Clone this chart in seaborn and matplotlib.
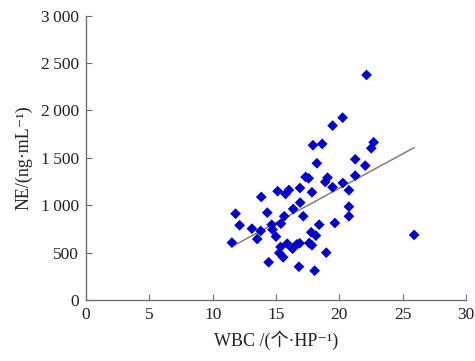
import matplotlib
matplotlib.use('Agg')
import matplotlib.pyplot as plt
import seaborn as sns
import pandas as pd
from matplotlib.ticker import FuncFormatter, MultipleLocator

# Значения
wbc = [22.15, 20.26, 19.47, 17.92, 18.65, 22.71, 22.52, 18.23, 21.26, 22.05,
       17.34, 17.58, 19.07, 18.89, 21.26, 20.28, 19.47, 16.89, 20.76, 16.02,
       15.76, 15.13, 17.84, 13.84, 16.91, 16.36, 20.76, 14.31, 11.81, 15.65,
       17.15, 20.76, 19.65, 12.13, 13.10, 14.66, 15.39, 18.41, 14.73, 13.79,
       13.52, 15.00, 17.78, 18.15, 11.52, 15.89, 15.36, 16.31, 16.65, 16.87,
       17.63, 17.84, 15.26, 15.57, 18.97, 14.42, 16.81, 18.05, 25.91]
ne = [2373, 1923, 1839, 1632, 1646, 1663, 1600, 1442, 1484, 1417,
      1297, 1283, 1290, 1245, 1311, 1234, 1189, 1181, 1157, 1160,
      1118, 1147, 1136, 1086, 1027, 960, 984, 921, 910, 883,
      883, 883, 812, 788, 752, 794, 805, 794, 742, 728,
      643, 668, 714, 679, 605, 594, 559, 541, 587, 598,
      601, 577, 496, 450, 499, 398, 351, 309, 686]

# Линия тренда (концы)
fit_x = [11.52, 25.91]
fit_y = [563, 1607]

df = pd.DataFrame({'wbc': wbc, 'ne': ne})
fit = pd.DataFrame({'x': fit_x, 'y': fit_y})

sns.set_theme(style='ticks')
plt.rcParams['font.family'] = ['Liberation Serif', 'Noto Sans CJK SC', 'DejaVu Serif']

fig = plt.figure(figsize=(4.75, 3.61), dpi=100)
ax = fig.add_axes([0.181, 0.169, 0.8, 0.788])

sns.lineplot(data=fit, x='x', y='y', color='#808080', linewidth=1.1, ax=ax)
sns.scatterplot(data=df, x='wbc', y='ne', marker='D', color='#0000C8',
                s=30, edgecolor='none', ax=ax, zorder=3)

ax.set_xlim(0, 30)
ax.set_ylim(0, 3000)
ax.xaxis.set_major_locator(MultipleLocator(5))
ax.yaxis.set_major_locator(MultipleLocator(500))
ax.yaxis.set_major_formatter(FuncFormatter(
    lambda v, p: f'{int(v):,}'.replace(',', '\u2009')))

for s in ['top', 'right']:
    ax.spines[s].set_visible(False)
for s in ['left', 'bottom']:
    ax.spines[s].set_color('#707070')
    ax.spines[s].set_linewidth(1.0)

ax.tick_params(direction='in', length=4, width=0.8, color='#707070',
               labelsize=12.5, labelcolor='#222222', pad=5)

ax.set_xlabel('WBC /(个·HP⁻¹)', fontsize=13, color='#222222', labelpad=5)
ax.set_ylabel('NE/(ng·mL⁻¹)', fontsize=13, color='#222222', labelpad=6)

plt.savefig('out.png', dpi=100, facecolor='white')
plt.close()
